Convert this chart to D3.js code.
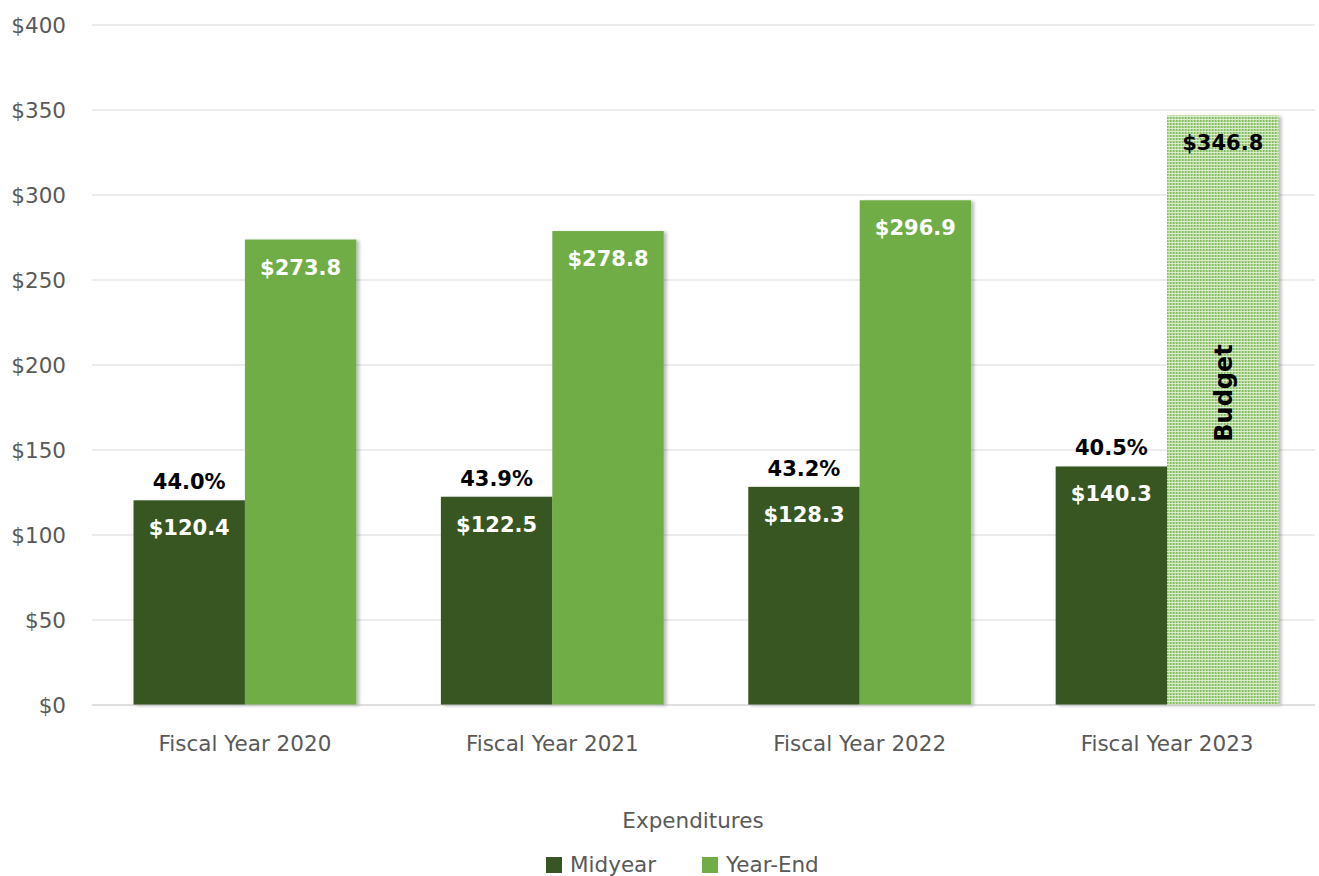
<!DOCTYPE html>
<html>
<head>
<meta charset="utf-8">
<script src="https://cdn.jsdelivr.net/npm/d3@7"></script>
<style>
  body { margin: 0; background: #fff; }
  text { font-family: "DejaVu Sans", sans-serif; }
</style>
</head>
<body>
<svg id="chart" width="1319" height="876"></svg>
<script>
// data
var categories = ["Fiscal Year 2020", "Fiscal Year 2021", "Fiscal Year 2022", "Fiscal Year 2023"];
var midyear = [120.4, 122.5, 128.3, 140.3];
var yearEnd = [273.8, 278.8, 296.9, 346.8];
var percents = ["44.0%", "43.9%", "43.2%", "40.5%"];
var yTicks = [0, 50, 100, 150, 200, 250, 300, 350, 400];
var seriesNames = ["Midyear", "Year-End"];

var svg = d3.select("#chart");
var colors = { "Midyear": "#375623", "Year-End": "#70ad47" };

// dotted pattern for the budget bar
var defs = svg.append("defs");
var pat = defs.append("pattern")
	.attr("id", "budget")
	.attr("width", 3).attr("height", 3)
	.attr("patternUnits", "userSpaceOnUse");
pat.append("rect").attr("width", 3).attr("height", 3).attr("fill", "#dcedcf");
pat.append("rect").attr("width", 2).attr("height", 2).attr("fill", "#84bd5e");

var shadow = defs.append("filter").attr("id", "shadow")
	.attr("x", "-10%").attr("y", "-10%").attr("width", "130%").attr("height", "130%");
shadow.append("feDropShadow").attr("dx", 3).attr("dy", 1).attr("stdDeviation", 1.5)
	.attr("flood-color", "#000").attr("flood-opacity", 0.25);

var plotL = 92, plotR = 1320, plotT = 25, plotB = 705;

var y = d3.scaleLinear().domain([0, 400]).range([plotB, plotT]);
var x0 = d3.scaleBand().domain(categories).range([plotL, plotR]).paddingInner(0.275).paddingOuter(0.135);
var x1 = d3.scaleBand().domain(seriesNames).range([0, x0.bandwidth()]);

// gridlines
svg.append("g").selectAll("line")
	.data(yTicks.filter(function(d) { return d > 0; }))
	.enter().append("line")
	.attr("x1", plotL).attr("x2", 1315)
	.attr("y1", function(d) { return y(d); })
	.attr("y2", function(d) { return y(d); })
	.attr("stroke", "#d9d9d9").attr("stroke-width", 1);

// y labels
svg.append("g").selectAll("text")
	.data(yTicks)
	.enter().append("text")
	.attr("x", 66)
	.attr("y", function(d) { return y(d) + 8; })
	.attr("text-anchor", "end")
	.attr("font-size", 21.5)
	.attr("fill", "#595959")
	.text(function(d) { return "$" + d; });

// bars
var groups = svg.append("g").selectAll("g")
	.data(categories)
	.enter().append("g")
	.attr("transform", function(d) { return "translate(" + x0(d) + ",0)"; });

groups.append("rect")
	.attr("x", x1("Midyear"))
	.attr("y", function(d, i) { return y(midyear[i]); })
	.attr("width", x1.bandwidth())
	.attr("height", function(d, i) { return plotB - y(midyear[i]); })
	.attr("fill", colors["Midyear"])
	.attr("filter", "url(#shadow)");

groups.append("rect")
	.attr("x", x1("Year-End"))
	.attr("y", function(d, i) { return y(yearEnd[i]); })
	.attr("width", x1.bandwidth())
	.attr("height", function(d, i) { return plotB - y(yearEnd[i]); })
	.attr("fill", function(d, i) { return i == categories.length - 1 ? "url(#budget)" : colors["Year-End"]; })
	.attr("filter", "url(#shadow)");

// axis line
svg.append("line")
	.attr("x1", plotL).attr("x2", 1315)
	.attr("y1", plotB).attr("y2", plotB)
	.attr("stroke", "#bfbfbf").attr("stroke-width", 1);

// value labels
groups.append("text")
	.attr("x", x1("Midyear") + x1.bandwidth() / 2)
	.attr("y", function(d, i) { return y(midyear[i]) + 35; })
	.attr("text-anchor", "middle")
	.attr("font-size", 21).attr("font-weight", "bold").attr("fill", "#fff")
	.text(function(d, i) { return "$" + midyear[i].toFixed(1); });

groups.append("text")
	.attr("x", x1("Year-End") + x1.bandwidth() / 2)
	.attr("y", function(d, i) { return y(yearEnd[i]) + 35; })
	.attr("text-anchor", "middle")
	.attr("font-size", 21).attr("font-weight", "bold")
	.attr("fill", function(d, i) { return i == categories.length - 1 ? "#000" : "#fff"; })
	.text(function(d, i) { return "$" + yearEnd[i].toFixed(1); });

groups.append("text")
	.attr("x", x1("Midyear") + x1.bandwidth() / 2)
	.attr("y", function(d, i) { return y(midyear[i]) - 11; })
	.attr("text-anchor", "middle")
	.attr("font-size", 21).attr("font-weight", "bold").attr("fill", "#000")
	.text(function(d, i) { return percents[i]; });

// budget label
var lastCat = categories[categories.length - 1];
svg.append("text")
	.attr("transform", "translate(" + (x0(lastCat) + x1("Year-End") + x1.bandwidth() / 2 + 9) + "," + 393 + ") rotate(-90)")
	.attr("text-anchor", "middle")
	.attr("font-size", 24).attr("font-weight", "bold").attr("fill", "#000")
	.text("Budget");

// category labels
svg.append("g").selectAll("text")
	.data(categories)
	.enter().append("text")
	.attr("x", function(d) { return x0(d) + x0.bandwidth() / 2; })
	.attr("y", 751)
	.attr("text-anchor", "middle")
	.attr("font-size", 21.5).attr("fill", "#595959")
	.text(function(d) { return d; });

// axis title
svg.append("text")
	.attr("x", 693).attr("y", 828)
	.attr("text-anchor", "middle")
	.attr("font-size", 21.5).attr("fill", "#595959")
	.text("Expenditures");

// legend
var legendX = [546, 702];
var legend = svg.append("g").selectAll("g")
	.data(seriesNames)
	.enter().append("g")
	.attr("transform", function(d, i) { return "translate(" + legendX[i] + ",857)"; });
legend.append("rect")
	.attr("width", 16).attr("height", 16)
	.attr("fill", function(d) { return colors[d]; });
legend.append("text")
	.attr("x", 24).attr("y", 15)
	.attr("font-size", 21.5).attr("fill", "#595959")
	.text(function(d) { return d; });
</script>
</body>
</html>
